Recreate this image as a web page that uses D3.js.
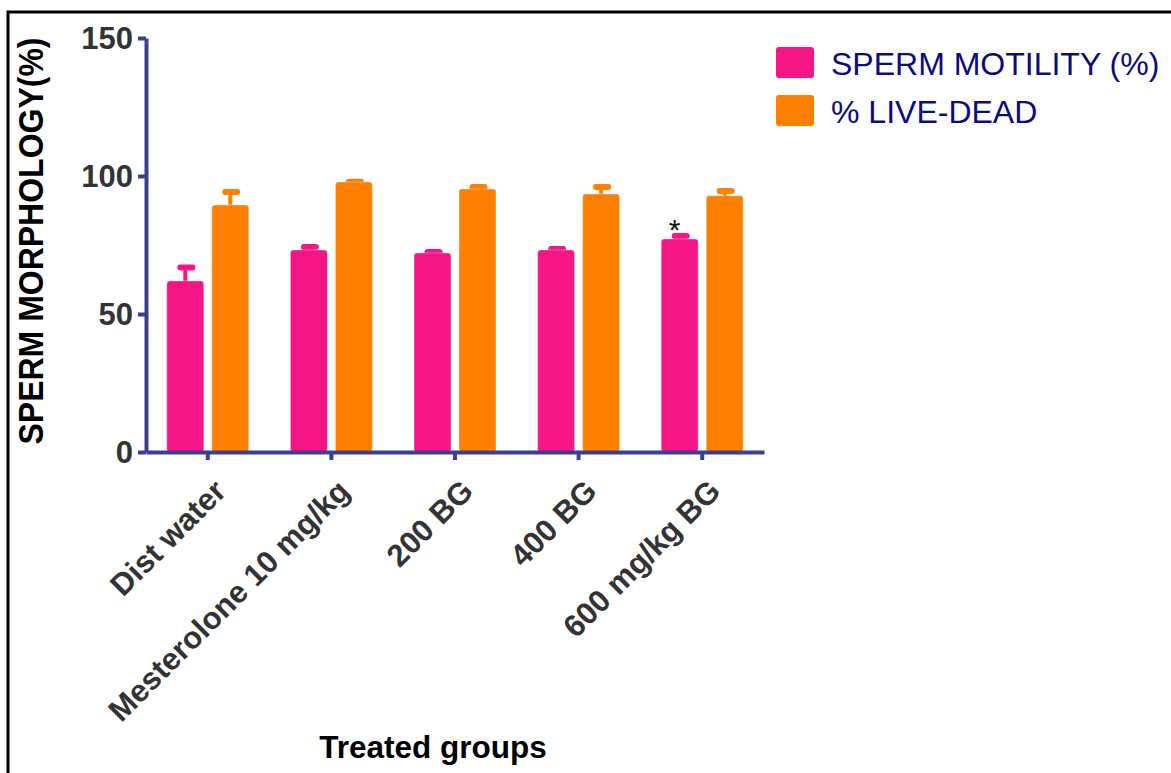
<!DOCTYPE html>
<html>
<head>
<meta charset="utf-8">
<script src="https://cdn.jsdelivr.net/npm/d3@7"></script>
<style>
  body { margin: 0; background: #fff; }
  svg { display: block; font-family: "Liberation Sans", Arial, sans-serif; }
</style>
</head>
<body>
<div id="chart"></div>
<script>
// data
const groups = ['Dist water', 'Mesterolone 10 mg/kg', '200 BG', '400 BG', '600 mg/kg BG'];
const series = ['SPERM MOTILITY (%)', '% LIVE-DEAD'];
const motility = [62, 73.2, 72.1, 73.2, 77.2];
const motilityErr = [5.6, 1.8, 1.1, 1.1, 1.8];
const liveDead = [89.5, 97.8, 95.3, 93.5, 92.8];
const liveDeadErr = [5.4, 0.8, 1.4, 3.2, 2.5];
const marks = ['', '', '', '', '*'];   // significance above motility bar
const yTicks = [0, 50, 100, 150];

const colors = ['#f61585', '#ff8000'];
const axisColor = '#3b3f8c';

const W = 1171, H = 773;
const svg = d3.select('#chart').append('svg').attr('width', W).attr('height', H);

// frame
svg.append('rect')
  .attr('x', 8).attr('y', 12).attr('width', 1400).attr('height', 1000)
  .attr('fill', 'none').attr('stroke', '#000').attr('stroke-width', 3);

const x = d3.scaleBand().domain(groups).range([146, 764]);
const xs = d3.scaleBand().domain(series).range([0, x.bandwidth()])
  .paddingInner(0.178).paddingOuter(0.4625);
const y = d3.scaleLinear().domain([0, 150]).range([452, 38]);

const rows = groups.map((g, i) => ({
  group: g,
  vals: [
    { s: series[0], v: motility[i], e: motilityErr[i], c: colors[0], mark: marks[i] },
    { s: series[1], v: liveDead[i], e: liveDeadErr[i], c: colors[1], mark: '' }
  ]
}));

const g = svg.selectAll('.grp').data(rows).enter().append('g')
  .attr('transform', d => `translate(${x(d.group)},0)`);

const bar = g.selectAll('.bar').data(d => d.vals).enter().append('g');

// error bars (drawn first, bar sits over the whisker)
bar.append('rect')
  .attr('x', d => xs(d.s) + xs.bandwidth() / 2 - 2)
  .attr('width', 4)
  .attr('y', d => y(d.v + d.e))
  .attr('height', d => y(d.v) - y(d.v + d.e) + 2)
  .attr('fill', d => d.c);
bar.append('rect')
  .attr('x', d => xs(d.s) + xs.bandwidth() / 2 - 8)
  .attr('width', 18)
  .attr('y', d => y(d.v + d.e) - 1)
  .attr('height', 6)
  .attr('rx', 3)
  .attr('fill', d => d.c);

bar.append('rect')
  .attr('x', d => xs(d.s))
  .attr('width', xs.bandwidth())
  .attr('y', d => y(d.v))
  .attr('height', d => y(0) - y(d.v))
  .attr('rx', 3)
  .attr('fill', d => d.c)
  .attr('stroke', 'rgba(255,255,255,0.35)')
  .attr('stroke-width', 1);

bar.filter(d => d.mark).append('text')
  .attr('x', d => xs(d.s) + xs.bandwidth() / 2 - 5)
  .attr('y', d => y(d.v + d.e) + 6)
  .attr('text-anchor', 'middle')
  .attr('font-size', 30)
  .attr('fill', '#111')
  .text(d => d.mark);

// axes
const yAxis = svg.append('g')
  .attr('transform', 'translate(146,0)')
  .call(d3.axisLeft(y).tickValues(yTicks).tickSize(8).tickSizeOuter(0).tickPadding(5));
const xAxis = svg.append('g')
  .attr('transform', 'translate(0,452)')
  .call(d3.axisBottom(x).tickSize(8).tickSizeOuter(0));

[yAxis, xAxis].forEach(a => {
  a.select('.domain').attr('stroke', axisColor).attr('stroke-width', 4);
  a.selectAll('.tick line').attr('stroke', axisColor).attr('stroke-width', 4);
});

yAxis.selectAll('.tick text')
  .attr('font-size', 31).attr('font-weight', 'bold').attr('fill', '#333')
  .attr('font-family', '"Liberation Sans", Arial, sans-serif')
  .attr('dy', '0.34em');

xAxis.selectAll('.tick text')
  .attr('font-size', 31).attr('font-weight', 'bold').attr('fill', '#333')
  .attr('font-family', '"Liberation Sans", Arial, sans-serif')
  .attr('text-anchor', 'end')
  .attr('y', 0).attr('dy', 0)
  .attr('transform', 'translate(20,41) rotate(-45)');

// axis titles
svg.append('text')
  .attr('transform', 'translate(43,241) rotate(-90) scale(1,1.12)')
  .attr('text-anchor', 'middle')
  .attr('font-size', 32).attr('font-weight', 'bold').attr('fill', '#000')
  .text('SPERM MORPHOLOGY(%)');

svg.append('text')
  .attr('x', 433).attr('y', 758)
  .attr('text-anchor', 'middle')
  .attr('font-size', 31.5).attr('font-weight', 'bold').attr('fill', '#000')
  .text('Treated groups');

// legend
const leg = svg.selectAll('.leg').data(series).enter().append('g')
  .attr('transform', (d, i) => `translate(776,${47 + i * 48})`);
leg.append('rect')
  .attr('width', 38).attr('height', 31).attr('rx', 3)
  .attr('fill', (d, i) => colors[i]);
leg.append('text')
  .attr('x', 55).attr('y', 28)
  .attr('font-size', 32).attr('fill', '#0b0b80')
  .text(d => d);
</script>
</body>
</html>
